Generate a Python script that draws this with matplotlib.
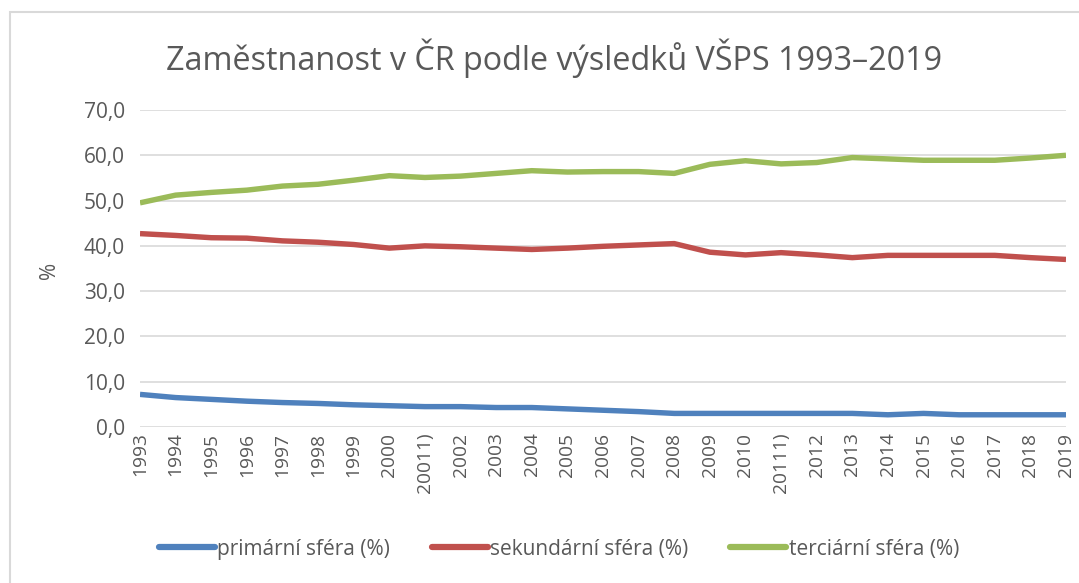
import matplotlib
matplotlib.use("Agg")
import matplotlib.pyplot as plt
from matplotlib.patches import Rectangle

years = ["1993", "1994", "1995", "1996", "1997", "1998", "1999", "2000", "20011)",
         "2002", "2003", "2004", "2005", "2006", "2007", "2008", "2009", "2010",
         "20111)", "2012", "2013", "2014", "2015", "2016", "2017", "2018", "2019"]
primarni = [7.2, 6.5, 6.1, 5.7, 5.4, 5.2, 4.9, 4.7, 4.5, 4.5, 4.3, 4.3, 4.0, 3.7,
            3.4, 3.0, 3.0, 3.0, 3.0, 3.0, 3.0, 2.7, 3.0, 2.7, 2.7, 2.7, 2.7]
sekundarni = [42.7, 42.3, 41.8, 41.7, 41.1, 40.8, 40.3, 39.5, 40.0, 39.8, 39.5, 39.2,
              39.5, 39.9, 40.2, 40.5, 38.6, 38.0, 38.5, 38.0, 37.4, 37.9, 37.9,
              37.9, 37.9, 37.4, 37.0]
terciarni = [49.5, 51.2, 51.8, 52.3, 53.2, 53.6, 54.5, 55.5, 55.1, 55.4, 56.0, 56.6,
             56.3, 56.4, 56.4, 56.0, 58.0, 58.8, 58.1, 58.4, 59.5, 59.2, 58.9,
             58.9, 58.9, 59.4, 60.0]
series_labels = ["primární sféra (%)", "sekundární sféra (%)", "terciární sféra (%)"]
colors = ["#4F81BD", "#C0504D", "#9BBB59"]
title = "Zaměstnanost v ČR podle výsledků VŠPS 1993–2019"
yticks = [0, 10, 20, 30, 40, 50, 60, 70]

plt.rcParams['font.family'] = ['Open Sans', 'DejaVu Sans']
txt = "#595959"

fig = plt.figure(figsize=(10.79, 5.83), dpi=100)
ax = fig.add_axes([140/1079, 1-427/583, (1066-140)/1079, (427-110)/583])

x = list(range(len(years)))
for vals, lab, c in zip([primarni, sekundarni, terciarni], series_labels, colors):
    ax.plot(x, vals, color=c, lw=3.9, label=lab, solid_capstyle='butt', solid_joinstyle='round')

ax.set_xlim(0, len(years)-1)
ax.set_ylim(0, 70)
ax.set_yticks(yticks)
ax.set_yticklabels([f"{v:.1f}".replace(".", ",") for v in yticks], color=txt, fontsize=15)
ax.set_xticks(x)
ax.set_xticklabels(years, rotation=90, color=txt, fontsize=13.8, va='top')
ax.tick_params(axis='y', length=0, pad=11)
ax.tick_params(axis='x', length=0, pad=4)
ax.grid(axis='y', color='#D9D9D9', lw=1.2)
ax.set_axisbelow(True)
for s in ax.spines.values():
    s.set_visible(False)
ax.set_ylabel("%", color=txt, fontsize=15)
ax.yaxis.set_label_coords((60-140)/926, 0.495)

fig.text(554/1079, 1-58/583, title, ha='center', va='center', color=txt, fontsize=23.3)

leg = fig.legend(loc='center', bbox_to_anchor=(559/1079, 1-549/583), ncol=3, frameon=False,
                 fontsize=15, handlelength=2.7, handletextpad=0.1, columnspacing=2.0)
for t in leg.get_texts():
    t.set_color(txt)
for h in leg.get_lines():
    h.set_linewidth(4.5)
    h.set_solid_capstyle('round')

fig.patches.append(Rectangle((10/1079, -0.1), 1.2, 1.1 - 12/583, transform=fig.transFigure,
                             fill=False, edgecolor='#D9D9D9', lw=1.5))

fig.savefig("out.png", dpi=100, facecolor='white')
